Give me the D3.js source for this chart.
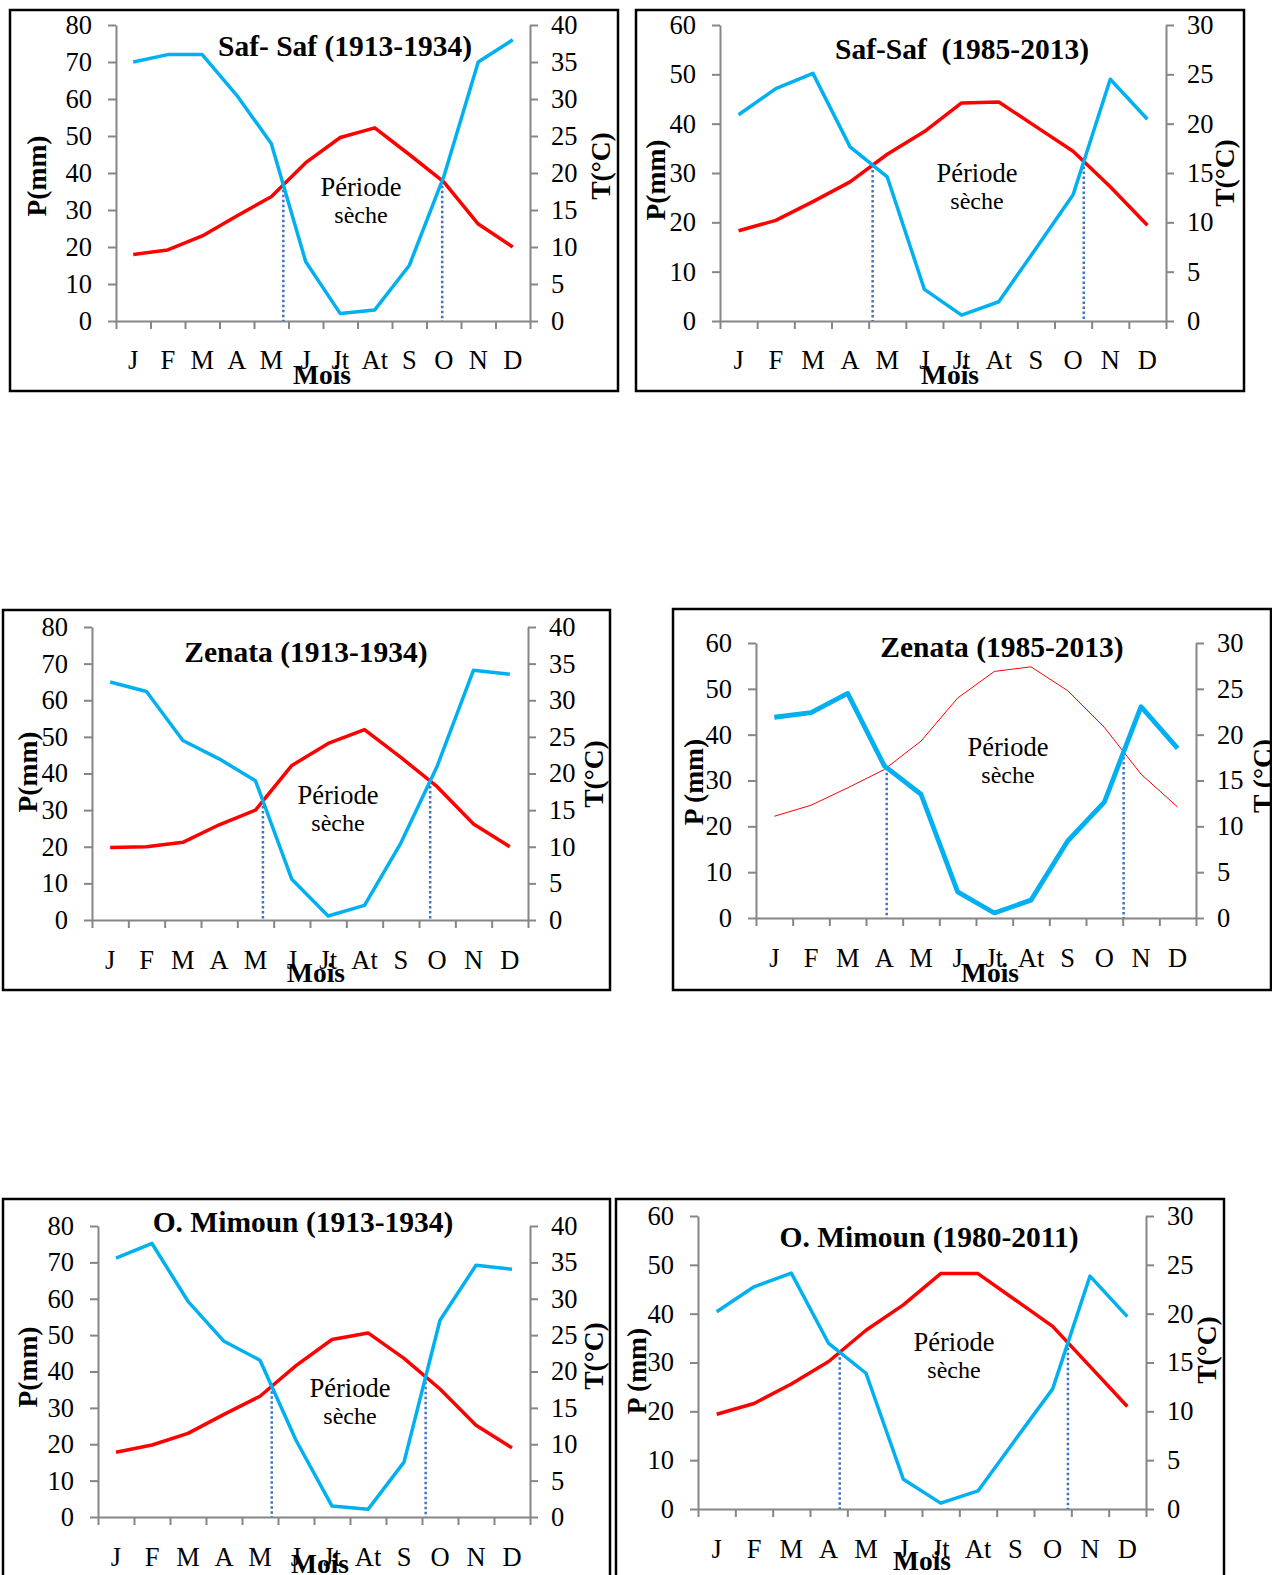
<!DOCTYPE html>
<html>
<head>
<meta charset="utf-8">
<script src="https://cdn.jsdelivr.net/npm/d3@7"></script>
<style>
  body { margin: 0; background: #fff; }
  svg { display: block; }
  text { font-family: "Liberation Serif", "Times New Roman", serif; fill: #000; }
</style>
</head>
<body>
<svg id="chart" width="1272" height="1575"></svg>
<script>
// Month labels on the category axis
const months = ["J", "F", "M", "A", "M", "J", "Jt", "At", "S", "O", "N", "D"];

// Monthly precipitation P (mm) and mean temperature T (°C) per station and period
const safSaf1913P = [70, 72, 72, 61, 48, 16, 2, 3, 15, 39, 70, 76];
const safSaf1913T = [9.0, 9.6, 11.5, 14.2, 16.8, 21.4, 24.8, 26.1, 22.5, 18.8, 13.1, 10.0];

const safSaf1985P = [41.8, 47.1, 50.2, 35.3, 29.2, 6.4, 1.2, 3.9, 14.7, 25.6, 49.0, 40.9];
const safSaf1985T = [9.15, 10.2, 12.1, 14.1, 16.9, 19.2, 22.1, 22.2, 19.7, 17.2, 13.6, 9.7];

const zenata1913P = [65, 62.4, 49, 44, 38, 11.1, 1.1, 4, 21, 42, 68.2, 67.1];
const zenata1913T = [9.9, 10.0, 10.6, 13.0, 15.0, 21.1, 24.1, 26.0, 22.2, 18.2, 13.1, 10.0];

const zenata1985P = [43.8, 44.8, 49.0, 33.2, 27.0, 5.7, 1.1, 3.9, 16.8, 25.3, 46.1, 37.0];
const zenata1985T = [11.1, 12.3, 14.2, 16.2, 19.3, 24.0, 26.9, 27.4, 24.8, 20.8, 15.7, 12.1];

const mimoun1913P = [71.2, 75.2, 59.3, 48.3, 43.1, 21.1, 3.0, 2.1, 15.1, 54.1, 69.2, 68.1];
const mimoun1913T = [8.9, 9.9, 11.5, 14.1, 16.6, 20.8, 24.4, 25.3, 21.8, 17.6, 12.6, 9.5];

const mimoun1980P = [40.4, 45.5, 48.3, 33.9, 27.8, 6.1, 1.2, 3.7, 14.2, 24.6, 47.7, 39.4];
const mimoun1980T = [9.7, 10.8, 12.8, 15.1, 18.3, 20.9, 24.1, 24.1, 21.4, 18.7, 14.6, 10.5];

// Tick values (P on the left, T on the right)
const pTicks80 = [0, 10, 20, 30, 40, 50, 60, 70, 80];
const tTicks40 = [0, 5, 10, 15, 20, 25, 30, 35, 40];
const pTicks60 = [0, 10, 20, 30, 40, 50, 60];
const tTicks30 = [0, 5, 10, 15, 20, 25, 30];

const titles = [
  "Saf- Saf (1913-1934)",
  "Saf-Saf  (1985-2013)",
  "Zenata (1913-1934)",
  "Zenata (1985-2013)",
  "O. Mimoun (1913-1934)",
  "O. Mimoun (1980-2011)"
];
const pLabels = ["P(mm)", "P(mm)", "P(mm)", "P (mm)", "P(mm)", "P (mm)"];
const tLabels = ["T(°C)", "T(°C)", "T(°C)", "T (°C)", "T(°C)", "T(°C)"];
const dryLabel = ["Période", "sèche"];
const xTitle = "Mois";

// Layout of each diagram box (frame, plot area, text anchors) and line styles
const panels = [
  { P: safSaf1913P, T: safSaf1913T, pT: pTicks80, tT: tTicks40,
    frame: [10, 10, 618, 391], plot: [116, 530, 25, 321],
    title: [345, 46], pLab: [36, 176], tLab: [600, 166],
    dry: [361, 187], mois: [322, 374], monthY: 360, pW: 3.5, tW: 3.5 },
  { P: safSaf1985P, T: safSaf1985T, pT: pTicks60, tT: tTicks30,
    frame: [636, 10, 1244, 391], plot: [720, 1166, 25, 321],
    title: [962, 49], pLab: [655, 180], tLab: [1224, 173],
    dry: [977, 173], mois: [950, 374], monthY: 360, pW: 3.5, tW: 3.5 },
  { P: zenata1913P, T: zenata1913T, pT: pTicks80, tT: tTicks40,
    frame: [3, 610, 610, 990], plot: [92, 528, 627, 920],
    title: [306, 652], pLab: [27, 772], tLab: [593, 774],
    dry: [338, 795], mois: [316, 972], monthY: 960, pW: 3.5, tW: 3.5 },
  { P: zenata1985P, T: zenata1985T, pT: pTicks60, tT: tTicks30,
    frame: [673, 609, 1271, 990], plot: [756, 1196, 643, 918],
    title: [1002, 647], pLab: [693, 782], tLab: [1262, 776],
    dry: [1008, 747], mois: [990, 972], monthY: 958, pW: 4.8, tW: 1 },
  { P: mimoun1913P, T: mimoun1913T, pT: pTicks80, tT: tTicks40,
    frame: [3, 1199, 610, 1595], plot: [98, 530, 1226, 1517],
    title: [303, 1222], pLab: [27, 1367], tLab: [593, 1356],
    dry: [350, 1388], mois: [320, 1563], monthY: 1557, pW: 3.5, tW: 3.5 },
  { P: mimoun1980P, T: mimoun1980T, pT: pTicks60, tT: tTicks30,
    frame: [616, 1199, 1224, 1595], plot: [698, 1146, 1216, 1509],
    title: [929, 1237], pLab: [636, 1371], tLab: [1206, 1350],
    dry: [954, 1342], mois: [922, 1560], monthY: 1549, pW: 3.5, tW: 3.5 }
];

const BLUE = "#00B0F0";
const RED = "#FF0000";
const AXIS = "#868686";
const DOT = "#4472C4";

const svg = d3.select("#chart");

panels.forEach((p, k) => {
  const g = svg.append("g");
  const [x0, x1, yTop, yBot] = p.plot;
  const pMax = d3.max(p.pT), tMax = d3.max(p.tT);

  const xBand = d3.scaleBand().domain(d3.range(12)).range([x0, x1]).paddingInner(0).paddingOuter(0);
  const bw = xBand.bandwidth();
  const cx = i => xBand(i) + bw / 2;
  const xEdge = d3.scaleLinear().domain([0, 12]).range([x0, x1]);
  const yP = d3.scaleLinear().domain([0, pMax]).range([yBot, yTop]);
  const yT = d3.scaleLinear().domain([0, tMax]).range([yBot, yTop]);

  // frame
  const [fx0, fy0, fx1, fy1] = p.frame;
  g.append("rect").attr("x", fx0).attr("y", fy0).attr("width", fx1 - fx0).attr("height", fy1 - fy0)
    .attr("fill", "none").attr("stroke", "#000").attr("stroke-width", 2.5);

  // left axis (P)
  const left = g.append("g").attr("transform", `translate(${x0},0)`)
    .call(d3.axisLeft(yP).tickValues(p.pT).tickSize(8).tickSizeOuter(0).tickPadding(16).tickFormat(d3.format("d")));
  // right axis (T)
  const right = g.append("g").attr("transform", `translate(${x1},0)`)
    .call(d3.axisRight(yT).tickValues(p.tT).tickSize(8).tickSizeOuter(0).tickPadding(13).tickFormat(d3.format("d")));
  // category axis: boundary ticks
  const bottom = g.append("g").attr("transform", `translate(0,${yBot})`)
    .call(d3.axisBottom(xEdge).tickValues(d3.range(13)).tickSize(8).tickSizeOuter(0).tickFormat(""));
  // category labels
  const labels = g.append("g").attr("transform", `translate(0,${p.monthY})`)
    .call(d3.axisBottom(xBand).tickSize(0).tickPadding(0).tickFormat(i => months[i]));
  labels.select(".domain").remove();

  [left, right, bottom].forEach(a => {
    a.select(".domain").attr("stroke", AXIS).attr("stroke-width", 2);
    a.selectAll(".tick line").attr("stroke", AXIS).attr("stroke-width", 2);
  });
  [left, right].forEach(a => a.selectAll(".tick text")
    .attr("font-family", "Liberation Serif").attr("font-size", 26.5).attr("fill", "#000"));
  labels.selectAll(".tick text")
    .attr("font-family", "Liberation Serif").attr("font-size", 26.5).attr("fill", "#000")
    .attr("dy", "0.35em").attr("y", 0);

  // dry-period boundaries: where P crosses the 2T curve
  const diff = i => p.P[i] / pMax - p.T[i] / tMax;
  for (let i = 0; i < 11; i++) {
    const a = diff(i), b = diff(i + 1);
    if ((a > 0) !== (b > 0)) {
      const f = a / (a - b);
      const xc = cx(i) + f * bw;
      const pc = p.P[i] + f * (p.P[i + 1] - p.P[i]);
      g.append("line").attr("x1", xc).attr("x2", xc).attr("y1", yP(pc)).attr("y2", yBot)
        .attr("stroke", DOT).attr("stroke-width", 2.5).attr("stroke-dasharray", "2.5,2.5");
    }
  }

  // temperature and precipitation curves
  g.append("path").datum(p.T)
    .attr("d", d3.line().x((d, i) => cx(i)).y(d => yT(d)))
    .attr("fill", "none").attr("stroke", RED).attr("stroke-width", p.tW).attr("stroke-linejoin", "round");
  g.append("path").datum(p.P)
    .attr("d", d3.line().x((d, i) => cx(i)).y(d => yP(d)))
    .attr("fill", "none").attr("stroke", BLUE).attr("stroke-width", p.pW).attr("stroke-linejoin", "round");

  // title
  g.append("text").attr("x", p.title[0]).attr("y", p.title[1]).attr("dy", "0.35em")
    .attr("text-anchor", "middle").attr("font-weight", "bold").attr("font-size", 29.5)
    .style("white-space", "pre").text(titles[k]);

  // axis titles
  g.append("text").attr("transform", `translate(${p.pLab[0]},${p.pLab[1]}) rotate(-90)`)
    .attr("dy", "0.35em").attr("text-anchor", "middle").attr("font-weight", "bold").attr("font-size", 27.5)
    .text(pLabels[k]);
  g.append("text").attr("transform", `translate(${p.tLab[0]},${p.tLab[1]}) rotate(-90)`)
    .attr("dy", "0.35em").attr("text-anchor", "middle").attr("font-weight", "bold").attr("font-size", 27.5)
    .text(tLabels[k]);
  g.append("text").attr("x", p.mois[0]).attr("y", p.mois[1]).attr("dy", "0.35em")
    .attr("text-anchor", "middle").attr("font-weight", "bold").attr("font-size", 27.5)
    .text(xTitle);

  // dry period annotation
  g.append("text").attr("x", p.dry[0]).attr("y", p.dry[1]).attr("dy", "0.35em")
    .attr("text-anchor", "middle").attr("font-size", 26.5).text(dryLabel[0]);
  g.append("text").attr("x", p.dry[0]).attr("y", p.dry[1] + 28).attr("dy", "0.35em")
    .attr("text-anchor", "middle").attr("font-size", 24).text(dryLabel[1]);
});
</script>
</body>
</html>
